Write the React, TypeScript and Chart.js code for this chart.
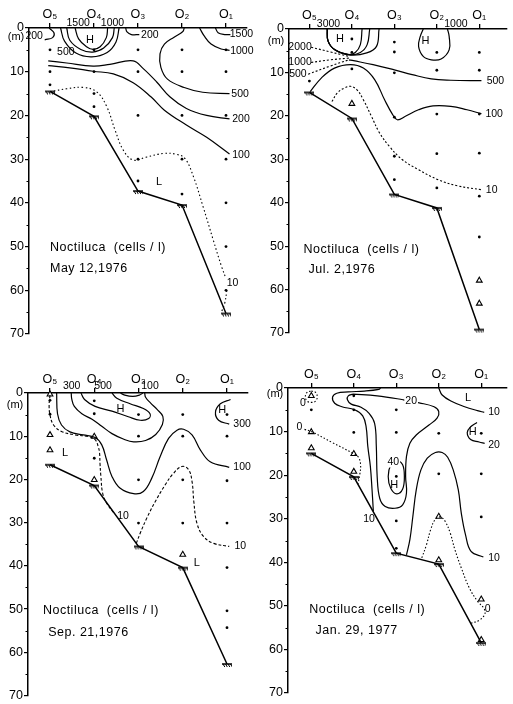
import React, { useEffect, useRef } from 'react';
import { Chart, registerables } from 'chart.js';
Chart.register(...registerables);

type P = [number, number];
type L = [string, number, number, string];

const stations = ['O₅', 'O₄', 'O₃', 'O₂', 'O₁'];
const depthTicks = [0, 10, 20, 30, 40, 50, 60, 70];
const titleText = 'Noctiluca  (cells / l)';

// ---------- Panel 1: May 12, 1976 ----------
const p1Date = 'May 12,1976';
const p1Floor = [14.5, 20.2, 37.3, 40.5, 65.3];
const p1Dots: P[] = [
  [0, 5], [0, 10], [0, 13],
  [1, 5], [1, 10], [1, 15], [1, 18],
  [2, 5], [2, 10], [2, 20], [2, 30], [2, 35],
  [3, 5], [3, 10], [3, 20], [3, 30], [3, 38],
  [4, 5], [4, 10], [4, 20], [4, 30], [4, 40], [4, 50], [4, 60],
];
const p1Tri: P[] = [];
const p1Solid: P[][] = [
  [[0.24, 0], [0.33, 3], [0.6, 5.8], [0.95, 6.6], [1.3, 5.6], [1.5, 3.2], [1.57, 0]],
  [[0.38, 0], [0.45, 2.8], [0.7, 4.9], [0.97, 5.5], [1.22, 4.6], [1.42, 2.2], [1.46, 0]],
  [[0.57, 0], [0.65, 2.5], [0.83, 4.3], [0.98, 4.9], [1.14, 4.3], [1.28, 2.2], [1.31, 0]],
  [[-0.02, 0], [0.09, 1.1], [0.06, 2.2], [-0.12, 2.7]],
  [[1.72, 0], [1.75, 0.9], [1.85, 1.5], [2.03, 1.5]],
  [[3.76, 0], [3.82, 1.07], [3.97, 1.5], [4.1, 1.5]],
  [[3.4, 0], [3.5, 1.75], [3.66, 3.66], [3.89, 4.8], [4.08, 5.1]],
  [[3.05, 0], [3.02, 0.8], [2.82, 2.1], [2.6, 3.7], [2.5, 5.9], [2.52, 9.0], [2.67, 11.7], [3.05, 13.6], [3.47, 14.7], [4.08, 15.0]],
  [[-0.04, 7.5], [0.38, 8.0], [0.98, 8.7], [1.36, 8.3], [1.89, 7.5], [2.12, 9.3], [2.42, 12.3], [2.73, 15.8], [3.1, 18.4], [3.56, 20], [4.08, 20.8]],
  [[-0.04, 8.6], [0.45, 9.1], [0.98, 9.9], [1.44, 10.5], [1.89, 12.5], [2.3, 15.8], [2.6, 18.8], [3.1, 22.2], [3.56, 25], [4.08, 28.8]],
];
const p1Dotted: P[][] = [
  [[0, 14.6], [0.38, 13.9], [0.76, 13.6], [1.06, 14.6], [1.29, 18.0], [1.48, 23.4], [1.67, 28], [1.89, 30.2], [2.2, 29.5], [2.58, 28.7], [2.88, 28.9], [3.07, 29.9], [3.26, 34], [3.48, 40.9], [3.71, 48.5], [3.9, 54.6], [4.0, 57.3]],
  [[4.02, 60], [3.97, 63], [3.9, 64.9]],
];
const p1Labels: L[] = [
  ['1500', 0.64, -1.2, 'n'], ['1000', 1.42, -1.2, 'n'],
  ['200', -0.36, 1.9, 'n'], ['500', 0.36, 5.5, 'n'], ['H', 0.91, 2.7, 'h'],
  ['200', 2.27, 1.7, 'n'],
  ['1500', 4.35, 1.4, 'n'], ['1000', 4.36, 5.4, 'n'], ['500', 4.32, 15.1, 'n'],
  ['200', 4.34, 20.9, 'n'], ['100', 4.34, 29.1, 'n'], ['10', 4.15, 58.3, 'n'],
  ['L', 2.48, 35.2, 'h'],
];

// ---------- Panel 2: Jul. 2, 1976 ----------
const p2Date = 'Jul. 2,1976';
const p2Floor = [14.6, 20.6, 38.1, 41.2, 69.2];
const p2Dots: P[] = [
  [0, 12],
  [1, 2.3], [1, 5.4], [1, 9.2],
  [2, 3.0], [2, 5.3], [2, 10.1], [2, 20.3], [2, 29.3], [2, 34.7],
  [3, 5.4], [3, 9.5], [3, 19.6], [3, 28.7], [3, 36.6],
  [4, 5.4], [4, 9.5], [4, 19.6], [4, 28.6], [4, 38.5], [4, 47.9],
];
const p2Tri: P[] = [[1, 17.2], [4, 57.9], [4, 63.2]];
const p2Solid: P[][] = [
  [[0.42, 0], [0.44, 2.8], [0.6, 4.8], [0.9, 5.85], [1.08, 5.4], [1.2, 3.6], [1.24, 0]],
  [[0.42, 0], [0.44, 2.8], [0.6, 4.8], [0.93, 5.9], [1.2, 5.4], [1.36, 3.6], [1.42, 0]],
  [[0.42, 0], [0.44, 2.8], [0.6, 4.8], [0.97, 6.0], [1.35, 5.5], [1.58, 4.0], [1.64, 0]],
  [[0.93, 7.1], [1.04, 7.3], [1.5, 8.2], [2.0, 9.4], [2.42, 10.5], [2.87, 11.5], [3.33, 11.8], [4.05, 11.9]],
  [[2.68, 0], [2.61, 1.7], [2.57, 4.0], [2.68, 6.3], [2.87, 7.1], [3.1, 6.9], [3.29, 4.8], [3.29, 1.7], [3.25, 0]],
  [[0.02, 14.4], [0.28, 11.3], [0.59, 9.0], [0.97, 8.2], [1.27, 9.0], [1.54, 11.7], [1.77, 16.3], [1.96, 19.7], [2.07, 20.9], [2.26, 20.1], [2.57, 18.6], [2.91, 17.7], [3.33, 17.8], [3.71, 18.6], [4.05, 19.5]],
];
const p2Dotted: P[][] = [
  [[0.04, 4.2], [0.5, 5.3], [0.93, 6.3]],
  [[0.04, 7.7], [0.5, 7.1], [0.93, 6.7]],
  [[-0.03, 10.4], [0.5, 8.5], [0.93, 7.1]],
  [[0.53, 16.7], [0.66, 14.7], [0.82, 13.6], [0.97, 13.2], [1.12, 14.0], [1.27, 16.3], [1.46, 20.1], [1.65, 23.9], [1.88, 27], [2.19, 30.1], [2.57, 32.4], [3.03, 34.7], [3.48, 36.1], [4.05, 37]],
];
const p2Labels: L[] = [
  ['3000', 0.45, -1.1, 'n'], ['1000', 3.45, -1.1, 'n'],
  ['2000', -0.22, 4.2, 'n'], ['1000', -0.22, 7.7, 'n'], ['500', -0.27, 10.4, 'n'],
  ['H', 0.72, 2.3, 'h'], ['H', 2.73, 2.8, 'h'],
  ['500', 4.38, 11.9, 'n'], ['100', 4.35, 19.6, 'n'], ['10', 4.29, 37.2, 'n'],
];

// ---------- Panel 3: Sep. 21, 1976 ----------
const p3Date = 'Sep. 21,1976';
const p3Floor = [16.6, 21.4, 35.5, 40.4, 62.7];
const p3Dots: P[] = [
  [0, 1.7], [0, 4.9],
  [1, 1.8], [1, 4.8], [1, 15.1],
  [2, 5.0], [2, 10.0], [2, 20.1], [2, 30.1],
  [3, 5.0], [3, 10.0], [3, 20.1], [3, 30.1],
  [4, 5.0], [4, 10.0], [4, 20.3], [4, 30.1], [4, 40.4], [4, 50.4], [4, 54.3],
];
const p3Tri: P[] = [[0, 0.3], [0, 9.7], [0, 13.2], [1, 10.1], [1, 20.1], [3, 37.4]];
const p3Solid: P[][] = [
  [[0.15, 0], [0.17, 4.8], [0.26, 7.4], [0.45, 9.0], [0.75, 9.7], [1.02, 10.3], [1.17, 12.0], [1.28, 15.5], [1.4, 19.3], [1.58, 22.0], [1.89, 23.3], [2.11, 22.8], [2.3, 19.7], [2.49, 14.7], [2.68, 10.5], [2.87, 8.6], [3.02, 8.4], [3.21, 9.7], [3.4, 13.2], [3.62, 15.9], [4.05, 17.2]],
  [[0.48, 0], [0.49, 1.3], [0.55, 3.1], [0.72, 4.8], [0.95, 6.1], [1.17, 7.7], [1.4, 9.4], [1.67, 10.7], [1.89, 11.3], [2.16, 11.0], [2.39, 9.6], [2.54, 7.3], [2.55, 5.4], [2.42, 3.8], [2.27, 2.3], [2.16, 1.0], [2.14, 0]],
  [[0.7, 0], [0.78, 1.5], [1.02, 3.1], [1.4, 4.2], [1.77, 5.5], [2.04, 6.3], [2.23, 5.9], [2.26, 4.8], [2.11, 3.6], [1.81, 2.5], [1.51, 1.2], [1.4, 0]],
  [[1.59, 0], [1.69, 0.5], [1.87, 0.8], [2.02, 0.5], [2.1, 0]],
  [[4.08, 1.5], [3.85, 2.5], [3.74, 4.4], [3.81, 6.3], [4.05, 7.2]],
];
const p3Dotted: P[][] = [
  [[0, 0.5], [-0.02, 2.8], [0, 5.1], [0.08, 7.4], [0.26, 8.9], [0.57, 9.7], [0.87, 10.1], [1.02, 10.8], [1.09, 12.4], [1.12, 13.9], [1.13, 16.3], [1.15, 19.3], [1.19, 23.2], [1.28, 25.5], [1.43, 27.6]],
  [[1.95, 34.8], [2.04, 32.4], [2.19, 28.9], [2.38, 25.1], [2.6, 21.3], [2.79, 18.6], [2.98, 17.0], [3.13, 17.7], [3.21, 20.5], [3.25, 25.1], [3.32, 30.1], [3.47, 33.2], [3.7, 34.8], [4.05, 35.5]],
];
const p3Labels: L[] = [
  ['300', 0.49, -1.6, 'n'], ['500', 1.2, -1.6, 'n'], ['100', 2.26, -1.6, 'n'],
  ['H', 1.59, 3.8, 'h'], ['H', 3.89, 4.0, 'h'],
  ['300', 4.34, 7.3, 'n'], ['100', 4.34, 17.2, 'n'], ['10', 4.3, 35.5, 'n'], ['10', 1.65, 28.5, 'n'],
  ['L', 0.34, 13.8, 'h'], ['L', 3.32, 39.3, 'h'],
];

// ---------- Panel 4: Jan. 29, 1977 ----------
const p4Date = 'Jan. 29, 1977';
const p4Floor = [15.0, 20.4, 37.9, 40.4, 58.5];
const p4Dots: P[] = [
  [0, 5.0],
  [1, 1.8], [1, 5.0], [1, 10.2],
  [2, 5.0], [2, 10.2], [2, 20.3], [2, 30.5], [2, 36.8],
  [3, 10.4], [3, 19.7],
  [4, 10.4], [4, 19.7], [4, 29.6],
];
const p4Tri: P[] = [[0, 1.8], [0, 10.1], [0, 13.8], [1, 15.1], [1, 19.2], [3, 29.5], [3, 39.5], [4, 48.5], [4, 57.8]];
const p4Solid: P[][] = [
  [[1.63, 0], [1.59, 0.3], [1.25, 0.7], [0.87, 0.9], [0.6, 1.2], [0.5, 2.1], [0.55, 3.5], [0.72, 4.3], [1.02, 5.0], [1.21, 6.4], [1.29, 8.9], [1.33, 13.4], [1.39, 18.0], [1.43, 23.4], [1.46, 28.3]],
  [[0.98, 1.4], [1.55, 1.8], [2.16, 2.7], [2.54, 3.4], [2.89, 4.3], [3.0, 5.4], [2.96, 6.9], [2.77, 8.5], [2.47, 10.8], [2.32, 12.7], [2.24, 15.7], [2.22, 20.3], [2.24, 24.1], [2.15, 26.8], [1.97, 27.6], [1.74, 27.2], [1.61, 25.3], [1.55, 20.3], [1.53, 13.4], [1.49, 8.1], [1.36, 5.8], [1.17, 4.4], [0.94, 3.7], [0.85, 2.7], [0.87, 1.8], [0.98, 1.4]],
  [[2.01, 16.3], [1.87, 17.6], [1.81, 20.3], [1.87, 23], [2.01, 24.3], [2.15, 23.2], [2.19, 20.3], [2.15, 17.6], [2.01, 16.3]],
  [[3.0, 0], [3.08, 1.6], [3.31, 3.1], [3.61, 4.3], [3.91, 5.2], [4.07, 5.6]],
  [[3.9, 7.9], [3.75, 8.9], [3.67, 10.2], [3.75, 11.8], [3.95, 12.4], [4.08, 12.7]],
  [[2.24, 38.3], [2.32, 34.8], [2.39, 29.5], [2.47, 23.4], [2.58, 18.8], [2.73, 16.1], [2.92, 14.8], [3.08, 14.8], [3.21, 15.9], [3.34, 18.8], [3.46, 23.4], [3.53, 28.7], [3.63, 33.7], [3.76, 37.5], [4.05, 38.8]],
];
const p4Dotted: P[][] = [
  [[0, 0.7], [0.1, 1.0], [0.14, 2.0], [0.1, 3.0], [0, 3.3], [-0.1, 3.0], [-0.14, 2.0], [-0.1, 1.0], [0, 0.7]],
  [[-0.16, 9.5], [0, 10], [0.49, 12.5], [0.98, 15.0], [1.11, 15.9], [1.16, 17.6], [1.14, 19.9], [1.1, 22]],
  [[2.6, 39], [2.71, 36], [2.81, 32.5], [2.92, 30.1], [3.04, 29.6], [3.15, 30.6], [3.27, 33.3], [3.38, 37.1], [3.53, 41.3], [3.72, 45.9], [3.91, 48.9], [4.07, 50.7], [4.08, 52], [3.95, 53.3], [3.76, 54]],
];
const p4Labels: L[] = [
  ['0', -0.2, 3.4, 'n'], ['0', -0.28, 9.0, 'n'],
  ['20', 2.35, 3.1, 'nb'], ['L', 3.69, 2.4, 'h'], ['10', 4.3, 5.6, 'n'],
  ['H', 3.8, 10.2, 'h'], ['20', 4.3, 13, 'n'],
  ['40', 1.93, 17.1, 'nb'], ['H', 1.95, 22.2, 'h'],
  ['10', 1.36, 30.2, 'n'], ['10', 4.3, 39, 'n'], ['0', 4.15, 50.8, 'n'],
];

// ---------- layout (pixels) ----------
interface Panel {
  left: number; top: number; w: number; h: number;
  aL: number; aT: number; aR: number; aB: number; o5: number; step: number;
  floor: number[]; dots: P[]; tris: P[]; solid: P[][]; dotted: P[][]; dash: number[];
  labels: L[]; date: string; titleAt: P; dateAt: P; mDepth: number;
}

const panels: Panel[] = [
  { left: 0, top: 0, w: 256, h: 350, aL: 29, aT: 28, aR: 247, aB: 334, o5: 50, step: 44,
    floor: p1Floor, dots: p1Dots, tris: p1Tri, solid: p1Solid, dotted: p1Dotted, dash: [1.5, 2.5],
    labels: p1Labels, date: p1Date, titleAt: [0, 50.3], dateAt: [0, 55], mDepth: 2.1 },
  { left: 256, top: 0, w: 257, h: 350, aL: 33, aT: 29, aR: 257, aB: 333, o5: 54, step: 43.75,
    floor: p2Floor, dots: p2Dots, tris: p2Tri, solid: p2Solid, dotted: p2Dotted, dash: [2, 2],
    labels: p2Labels, date: p2Date, titleAt: [-0.14, 50.8], dateAt: [-0.02, 55.4], mDepth: 2.8 },
  { left: 0, top: 350, w: 256, h: 354, aL: 28, aT: 43, aR: 248, aB: 347, o5: 50, step: 44.25,
    floor: p3Floor, dots: p3Dots, tris: p3Tri, solid: p3Solid, dotted: p3Dotted, dash: [3, 2],
    labels: p3Labels, date: p3Date, titleAt: [-0.16, 50.4], dateAt: [-0.04, 55.4], mDepth: 2.8 },
  { left: 256, top: 350, w: 257, h: 354, aL: 32, aT: 38, aR: 257, aB: 343, o5: 56, step: 43.75,
    floor: p4Floor, dots: p4Dots, tris: p4Tri, solid: p4Solid, dotted: p4Dotted, dash: [1.5, 2],
    labels: p4Labels, date: p4Date, titleAt: [-0.05, 50.8], dateAt: [0.1, 55.6], mDepth: 1.4 },
];

const FONT = '"Liberation Sans", Arial, sans-serif';

function makeFloorMark(): HTMLCanvasElement {
  const c = document.createElement('canvas');
  c.width = 10; c.height = 10;
  const g = c.getContext('2d')!;
  g.strokeStyle = '#000';
  g.lineWidth = 1.5;
  g.beginPath(); g.moveTo(0, 5); g.lineTo(10, 5); g.stroke();
  g.lineWidth = 1;
  for (let i = 1; i < 10; i += 2.5) { g.beginPath(); g.moveTo(i, 5); g.lineTo(i + 1.8, 8); g.stroke(); }
  return c;
}

function makePlugin(def: Panel) {
  return {
    id: 'annot',
    afterDatasetsDraw(chart: any) {
      const { ctx, scales } = chart;
      const xs = scales.x, ys = scales.y;
      const ax = chart.chartArea.left;
      ctx.save();
      ctx.strokeStyle = '#000';
      ctx.lineWidth = 1;
      for (let d = 5; d < 70; d += 10) {
        const py = Math.round(ys.getPixelForValue(d)) + 0.5;
        ctx.beginPath(); ctx.moveTo(ax - 2.5, py); ctx.lineTo(ax, py); ctx.stroke();
      }
      ctx.fillStyle = '#000';
      ctx.textBaseline = 'middle';
      ctx.textAlign = 'center';
      ctx.font = `11px ${FONT}`;
      ctx.fillText('(m)', ax - 13, ys.getPixelForValue(def.mDepth));
      for (const [t, x, d, k] of def.labels) {
        const px = xs.getPixelForValue(x), py = ys.getPixelForValue(d);
        ctx.font = k === 'h' ? `11px ${FONT}` : `10.5px ${FONT}`;
        if (k === 'nb') {
          const w = ctx.measureText(t).width;
          ctx.fillStyle = '#fff';
          ctx.fillRect(px - w / 2 - 1, py - 5, w + 2, 10);
        }
        ctx.fillStyle = '#000';
        ctx.fillText(t, px, py);
      }
      ctx.textAlign = 'left';
      ctx.font = `12.5px ${FONT}`;
      try { (ctx as any).letterSpacing = '0.5px'; } catch (e) { /* ignore */ }
      ctx.fillText(titleText, xs.getPixelForValue(def.titleAt[0]), ys.getPixelForValue(def.titleAt[1]));
      ctx.fillText(def.date, xs.getPixelForValue(def.dateAt[0]), ys.getPixelForValue(def.dateAt[1]));
      try { (ctx as any).letterSpacing = '0px'; } catch (e) { /* ignore */ }
      ctx.restore();
    },
  };
}

function PanelChart({ def }: { def: Panel }) {
  const ref = useRef<HTMLCanvasElement>(null);
  useEffect(() => {
    if (!ref.current) return;
    const floorMark = makeFloorMark();
    const toXY = (c: P[]) => c.map(([x, y]) => ({ x, y }));
    const datasets: any[] = [];
    def.solid.forEach((c) => datasets.push({
      type: 'line', data: toXY(c), borderColor: '#000', borderWidth: 1.2, pointRadius: 0,
      tension: 0.4, fill: false, clip: false,
    }));
    def.dotted.forEach((c) => datasets.push({
      type: 'line', data: toXY(c), borderColor: '#000', borderWidth: 1.1, pointRadius: 0,
      tension: 0.4, fill: false, clip: false, borderDash: def.dash,
    }));
    datasets.push({
      type: 'line', data: def.floor.map((d, i) => ({ x: i, y: d })), borderColor: '#000',
      borderWidth: 1.5, tension: 0, fill: false, clip: false,
      pointStyle: floorMark, pointRadius: 5,
    });
    datasets.push({
      type: 'scatter', data: toXY(def.dots), pointRadius: 1.4, backgroundColor: '#000',
      borderWidth: 0, showLine: false, clip: false,
    });
    datasets.push({
      type: 'scatter', data: toXY(def.tris), pointStyle: 'triangle', pointRadius: 3.3,
      backgroundColor: '#fff', borderColor: '#000', borderWidth: 1.1, showLine: false, clip: false,
    });
    const xMin = (def.aL - def.o5) / def.step;
    const xMax = (def.aR - def.o5) / def.step;
    const chart = new Chart(ref.current, {
      type: 'line',
      data: { datasets },
      options: {
        animation: false,
        responsive: false,
        events: [],
        layout: { padding: { left: 0, top: 0, right: def.w - def.aR, bottom: def.h - def.aB } },
        plugins: { legend: { display: false }, tooltip: { enabled: false } },
        scales: {
          x: {
            type: 'linear', position: 'top', min: xMin, max: xMax,
            afterBuildTicks: (s: any) => { s.ticks = stations.map((_, i) => ({ value: i })); },
            afterFit: (s: any) => { s.height = def.aT; },
            ticks: {
              callback: (v: any) => stations[Math.round(Number(v))] ?? '',
              font: { family: FONT, size: 12.5 }, color: '#000', padding: 1,
              maxRotation: 0, autoSkip: false,
            },
            grid: { display: true, drawOnChartArea: false, drawTicks: true, tickLength: 5, color: '#000', lineWidth: 1.3 },
            border: { display: true, color: '#000', width: 1.5 },
          },
          y: {
            type: 'linear', reverse: true, min: 0, max: 70,
            afterBuildTicks: (s: any) => { s.ticks = depthTicks.map((v) => ({ value: v })); },
            afterFit: (s: any) => { s.width = def.aL; },
            ticks: {
              callback: (v: any) => String(v),
              font: { family: FONT, size: 12.5 }, color: '#000', padding: 1,
            },
            grid: { display: true, drawOnChartArea: false, drawTicks: true, tickLength: 4, color: '#000', lineWidth: 1.2 },
            border: { display: true, color: '#000', width: 1.5 },
          },
        },
      } as any,
      plugins: [makePlugin(def)],
    });
    return () => chart.destroy();
  }, [def]);
  return (
    <canvas ref={ref} width={def.w} height={def.h}
      style={{ position: 'absolute', left: def.left, top: def.top, width: def.w, height: def.h }} />
  );
}

export default function App() {
  return (
    <div style={{ position: 'absolute', left: 0, top: 0, width: 513, height: 704, background: '#fff', overflow: 'hidden' }}>
      {panels.map((p, i) => <PanelChart key={i} def={p} />)}
    </div>
  );
}
